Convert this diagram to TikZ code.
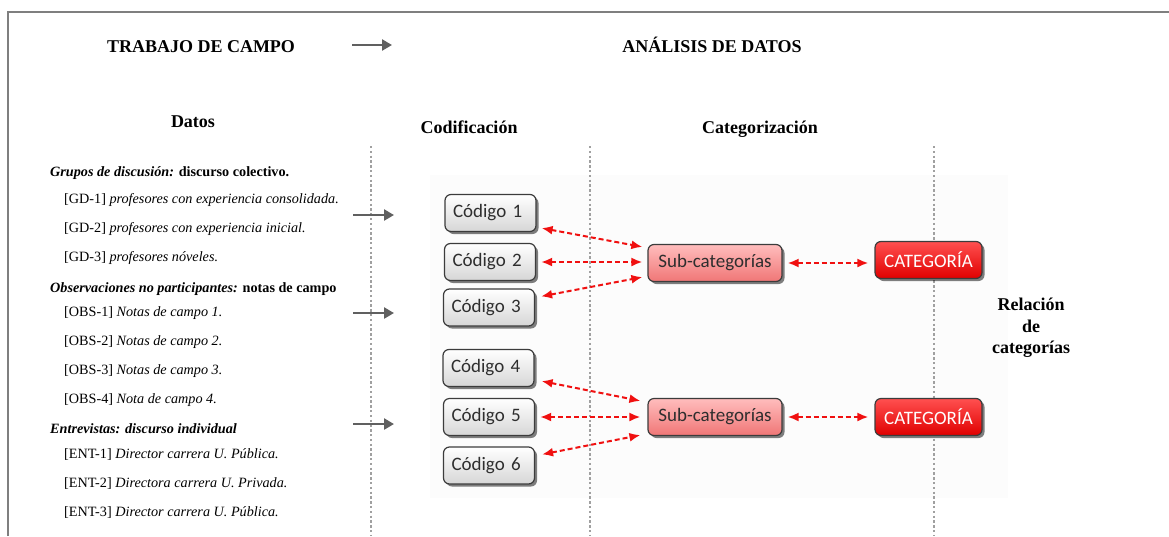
\documentclass[tikz,border=0pt]{standalone}
\usepackage{fontspec}
\setmainfont{Liberation Serif}
\newfontfamily\boxfont{Carlito}
\usetikzlibrary{arrows.meta,shadows,calc}
\definecolor{framegray}{HTML}{7F7F7F}
\definecolor{arrgray}{HTML}{606060}
\definecolor{dotgray}{HTML}{A0A0A0}
\definecolor{boxline}{HTML}{3C3C3C}
\definecolor{boxtext}{HTML}{2E2E2E}
\definecolor{subtop}{HTML}{FFBDBD}
\definecolor{subbot}{HTML}{F07676}
\definecolor{cattop}{HTML}{FF5050}
\definecolor{catbot}{HTML}{E00000}
\definecolor{arrred}{HTML}{F01010}
\tikzset{
  heading/.style={font=\fontsize{18}{20}\selectfont\bfseries, inner sep=0pt, anchor=base},
  listtext/.style={font=\fontsize{14.2}{16}\selectfont, inner sep=0pt, anchor=base west},
  basebox/.style={draw=boxline, line width=1.2pt, rounded corners=6pt,
     minimum height=37pt, inner ysep=0pt,
     font=\boxfont\fontsize{19}{21}\selectfont,
     drop shadow={shadow xshift=2.5pt, shadow yshift=-2.5pt, fill=black, opacity=0.5}},
  codebox/.style={basebox, top color=white, bottom color=black!16, text=boxtext,
     text width=75pt, align=left, inner xsep=8pt},
  subbox/.style={basebox, top color=subtop, bottom color=subbot, text=boxtext,
     minimum width=134pt, inner xsep=4pt},
  catbox/.style={basebox, top color=cattop, bottom color=catbot, text=white,
     minimum width=107pt, inner xsep=4pt},
  grayarr/.style={draw=arrgray, line width=2.6pt, -{Triangle[length=10pt,width=11pt]}},
  redarr/.style={draw=arrred, line width=2pt, dash pattern=on 5pt off 3pt,
     {Latex[length=11pt,width=9pt]}-{Latex[length=11pt,width=9pt]}},
  dotline/.style={draw=dotgray, line width=2.4pt, dash pattern=on 2.4pt off 2.4pt},
}
\begin{document}
\begin{tikzpicture}[x=1pt,y=-1pt]
\useasboundingbox (0,0) rectangle (1169,536);
% faint pasted-image background
\fill[black!1.2] (430,175) rectangle (1008,498);
% frame
\draw[framegray, line width=2.5pt] (8,536) -- (8,12) -- (1169,12);
% dotted column separators
\coordinate (d1t) at (371,146); \coordinate (d1b) at (371,536);
\coordinate (d2t) at (590,146); \coordinate (d2b) at (590,536);
\coordinate (d3t) at (934,146); \coordinate (d3b) at (934,536);
\draw[dotline] (d1t) -- (d1b);
\draw[dotline] (d2t) -- (d2b);
\draw[dotline] (d3t) -- (d3b);
% headings
\node[heading] (trabajo) at (201,52) {TRABAJO DE CAMPO};
\node[heading] (analisis) at (712,52) {ANÁLISIS DE DATOS};
\node[heading] (datos) at (193,127) {Datos};
\node[heading] (codif) at (469,133) {Codificación};
\node[heading] (categ) at (760,133) {Categorización};
\node[font=\fontsize{18}{21.5}\selectfont\bfseries, align=center, inner sep=0pt] (relacion) at (1031,328) {Relación\\de\\categorías};
% top arrow
\coordinate (ta1) at (352,45); \coordinate (ta2) at (392,45);
\draw[grayarr] (ta1) -- (ta2);
% left list
\node[listtext] (g0) at (50,176) {\textbf{\textit{Grupos de discusión:}} \textbf{discurso colectivo.}};
\node[listtext] (g1) at (64,203) {[GD-1] \textit{profesores con experiencia consolidada.}};
\node[listtext] (g2) at (64,232) {[GD-2] \textit{profesores con experiencia inicial.}};
\node[listtext] (g3) at (64,261) {[GD-3] \textit{profesores nóveles.}};
\node[listtext] (o0) at (50,292) {\textbf{\textit{Observaciones no participantes:}} \textbf{notas de campo}};
\node[listtext] (o1) at (64,316) {[OBS-1] \textit{Notas de campo 1.}};
\node[listtext] (o2) at (64,345) {[OBS-2] \textit{Notas de campo 2.}};
\node[listtext] (o3) at (64,374) {[OBS-3] \textit{Notas de campo 3.}};
\node[listtext] (o4) at (64,403) {[OBS-4] \textit{Nota de campo 4.}};
\node[listtext] (e0) at (50,433) {\textbf{\textit{Entrevistas: discurso individual}}};
\node[listtext] (e1) at (64,458) {[ENT-1] \textit{Director carrera U. Pública.}};
\node[listtext] (e2) at (64,487) {[ENT-2] \textit{Directora carrera U. Privada.}};
\node[listtext] (e3) at (64,516) {[ENT-3] \textit{Director carrera U. Pública.}};
% left arrows
\coordinate (la1) at (353,215); \coordinate (lb1) at (394,215);
\coordinate (la2) at (353,313); \coordinate (lb2) at (394,313);
\coordinate (la3) at (353,424); \coordinate (lb3) at (394,424);
\draw[grayarr] (la1) -- (lb1);
\draw[grayarr] (la2) -- (lb2);
\draw[grayarr] (la3) -- (lb3);
% boxes
\node[codebox] (c1) at (490.5,213) {Código 1};
\node[codebox] (c2) at (490,262) {Código 2};
\node[codebox] (c3) at (489,307.5) {Código 3};
\node[codebox] (c4) at (488.5,368) {Código 4};
\node[codebox] (c5) at (489,417) {Código 5};
\node[codebox] (c6) at (489,465.5) {Código 6};
\node[subbox] (s1) at (715,263) {Sub-categorías};
\node[subbox] (s2) at (715,417) {Sub-categorías};
\node[catbox] (k1) at (928.5,260) {CATEGORÍA};
\node[catbox] (k2) at (928.5,417) {CATEGORÍA};
% red dashed arrows, upper group
\draw[redarr] ([xshift=5pt,yshift=4pt]c1.south east) -- ([xshift=-5pt,yshift=-3pt]s1.north west);
\draw[redarr] ([xshift=5pt]c2.east) -- ([xshift=-5pt]c2.east -| s1.west);
\draw[redarr] ([xshift=6pt,yshift=-8pt]c3.north east) -- ([xshift=-5pt,yshift=5pt]s1.south west);
\draw[redarr] ([xshift=5pt]s1.east) -- ([xshift=-6pt]s1.east -| k1.west);
% lower group
\draw[redarr] ([xshift=7pt,yshift=6pt]c4.south east) -- ([xshift=-7pt,yshift=-3pt]s2.north west);
\draw[redarr] ([xshift=5pt]c5.east) -- ([xshift=-7pt]c5.east -| s2.west);
\draw[redarr] ([xshift=7pt,yshift=-8pt]c6.north east) -- ([xshift=-7pt,yshift=1pt]s2.south west);
\draw[redarr] ([xshift=5pt]s2.east) -- ([xshift=-6pt]s2.east -| k2.west);
\end{tikzpicture}
\end{document}
